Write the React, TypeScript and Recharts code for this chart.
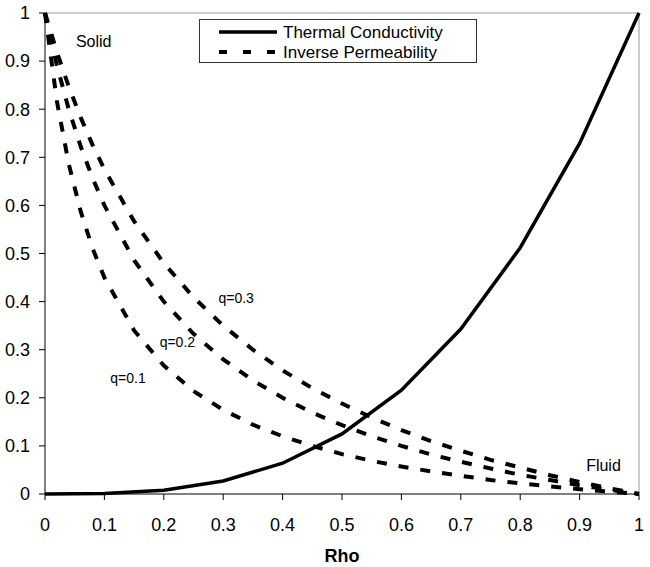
import { LineChart, Line, XAxis, YAxis, ReferenceLine, ReferenceDot } from "recharts"

const axisTicks = [0, 0.1, 0.2, 0.3, 0.4, 0.5, 0.6, 0.7, 0.8, 0.9, 1]

// thermal conductivity, sampled every 0.1
const rhoCoarse = [0, 0.1, 0.2, 0.3, 0.4, 0.5, 0.6, 0.7, 0.8, 0.9, 1]
const conductivity = [0, 0.001, 0.008, 0.027, 0.064, 0.125, 0.216, 0.343, 0.512, 0.729, 1]

// inverse permeability curves
const rhoFine = [0, 0.02, 0.04, 0.06, 0.08, 0.1, 0.15, 0.2, 0.25, 0.3, 0.35, 0.4, 0.45, 0.5, 0.55, 0.6, 0.65, 0.7, 0.75, 0.8, 0.85, 0.9, 0.95, 1]
const permQ01 = [1, 0.817, 0.686, 0.588, 0.511, 0.45, 0.34, 0.267, 0.214, 0.175, 0.144, 0.12, 0.1, 0.083, 0.069, 0.057, 0.047, 0.038, 0.029, 0.022, 0.016, 0.01, 0.005, 0]
const permQ02 = [1, 0.891, 0.8, 0.723, 0.657, 0.6, 0.486, 0.4, 0.333, 0.28, 0.236, 0.2, 0.169, 0.143, 0.12, 0.1, 0.082, 0.067, 0.053, 0.04, 0.029, 0.018, 0.009, 0]
const permQ03 = [1, 0.919, 0.847, 0.783, 0.726, 0.675, 0.567, 0.48, 0.409, 0.35, 0.3, 0.257, 0.22, 0.188, 0.159, 0.133, 0.11, 0.09, 0.071, 0.055, 0.039, 0.025, 0.012, 0]

const conductivityData = rhoCoarse.map((rho, i) => ({ rho, v: conductivity[i] }))
const permSeries = [permQ01, permQ02, permQ03].map((vals) => rhoFine.map((rho, i) => ({ rho, v: vals[i] })))

// text annotations placed in data coordinates
const notes = [
  { x: 0.052, y: 0.94, text: "Solid", size: 16 },
  { x: 0.911, y: 0.06, text: "Fluid", size: 16 },
  { x: 0.292, y: 0.407, text: "q=0.3", size: 14 },
  { x: 0.193, y: 0.317, text: "q=0.2", size: 14 },
  { x: 0.11, y: 0.242, text: "q=0.1", size: 14 },
]

const FONT = "'Liberation Sans', Arial, sans-serif"

function fmt(v: number) {
  return String(v)
}

function LegendBox() {
  return (
    <svg width={279} height={45} style={{ position: "absolute", left: 199, top: 19, fontFamily: FONT }}>
      <rect x={0.5} y={0.5} width={277} height={43} fill="#fff" stroke="#333" strokeWidth={1} />
      <line x1={20} y1={13} x2={78} y2={13} stroke="#000" strokeWidth={3.5} />
      <text x={84} y={13} fontSize={17} dominantBaseline="central" fill="#000">
        Thermal Conductivity
      </text>
      <line x1={20} y1={33} x2={78} y2={33} stroke="#000" strokeWidth={4} strokeDasharray="8 16" />
      <text x={84} y={33} fontSize={17} dominantBaseline="central" fill="#000">
        Inverse Permeability
      </text>
    </svg>
  )
}

export default function App() {
  return (
    <div style={{ position: "absolute", left: 0, top: 0, width: 650, height: 567, fontFamily: FONT }}>
      <LineChart width={650} height={567} margin={{ top: 13, right: 11, left: 0, bottom: 0 }} style={{ fontFamily: FONT }}>
        <XAxis
          type="number"
          dataKey="rho"
          domain={[0, 1]}
          ticks={axisTicks}
          tickFormatter={fmt}
          height={73}
          tickSize={6}
          tickMargin={18}
          stroke="#000"
          tick={{ fill: "#000", fontSize: 18 }}
          allowDuplicatedCategory={false}
          label={{ value: "Rho", position: "insideBottom", offset: 5, fontSize: 18, fontWeight: "bold", fill: "#000" }}
        />
        <YAxis
          type="number"
          domain={[0, 1]}
          ticks={axisTicks}
          tickFormatter={fmt}
          width={45}
          tickSize={6}
          tickMargin={9}
          stroke="#000"
          tick={{ fill: "#000", fontSize: 18 }}
        />
        <ReferenceLine y={1} stroke="#999" strokeWidth={1} />
        <ReferenceLine x={1} stroke="#999" strokeWidth={1} />
        {permSeries.map((d, i) => (
          <Line
            key={i}
            data={d}
            dataKey="v"
            type="linear"
            stroke="#000"
            strokeWidth={4}
            strokeDasharray="10 12"
            dot={false}
            isAnimationActive={false}
          />
        ))}
        <Line
          data={conductivityData}
          dataKey="v"
          type="linear"
          stroke="#000"
          strokeWidth={3.5}
          dot={false}
          isAnimationActive={false}
        />
        {notes.map((n) => (
          <ReferenceDot
            key={n.text}
            x={n.x}
            y={n.y}
            r={0}
            shape={(p: any) => (
              <text x={p.cx} y={p.cy} fontSize={n.size} fill="#000" dominantBaseline="central" fontFamily={FONT}>
                {n.text}
              </text>
            )}
          />
        ))}
      </LineChart>
      <LegendBox />
    </div>
  )
}
